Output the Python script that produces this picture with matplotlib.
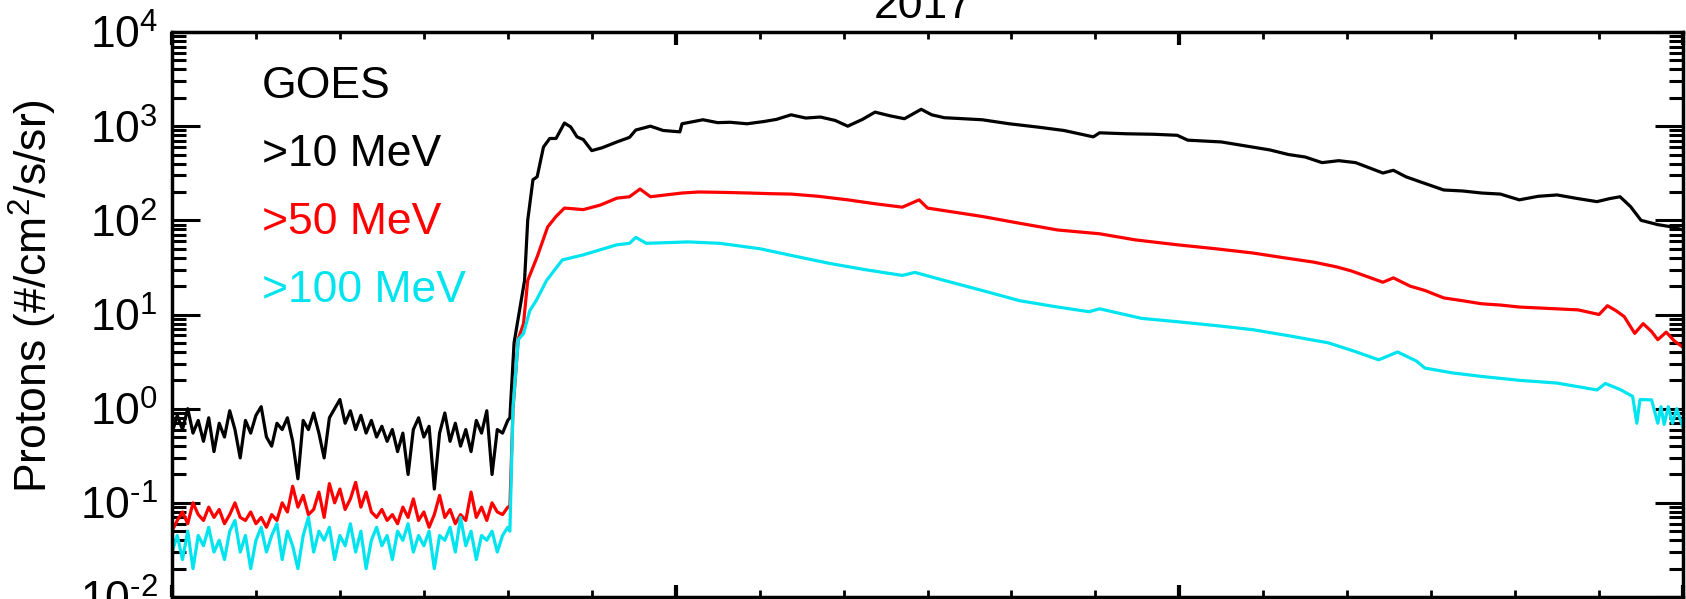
import numpy as np
import matplotlib.pyplot as plt
from matplotlib.ticker import FixedLocator, LogLocator, NullFormatter

plt.rcParams['font.family'] = ['Liberation Sans', 'DejaVu Sans']
plt.rcParams['mathtext.fontset'] = 'custom'
plt.rcParams['mathtext.rm'] = 'Liberation Sans'
plt.rcParams['mathtext.it'] = 'Liberation Sans'

# ---- data (hours since start of plot, #/cm2/s/sr) ----
# quiet-time background, sampled every 15 min over the first 16 h
quiet_p10 = [0.55, 0.85, 0.6, 1.0, 0.55, 0.75, 0.45, 0.8, 0.35, 0.7, 0.5, 0.95, 0.6,
             0.3, 0.75, 0.55, 0.85, 1.05, 0.5, 0.4, 0.7, 0.6, 0.8, 0.45, 0.18, 0.75,
             0.6, 0.9, 0.55, 0.3, 0.8, 1.0, 1.25, 0.7, 0.95, 0.6, 0.85, 0.55, 0.75,
             0.5, 0.65, 0.45, 0.6, 0.35, 0.55, 0.2, 0.6, 0.8, 0.5, 0.65, 0.14, 0.55,
             0.9, 0.45, 0.7, 0.4, 0.6, 0.35, 0.75, 0.55, 0.95, 0.2, 0.6, 0.55, 0.75]
quiet_p50 = [0.05, 0.065, 0.08, 0.06, 0.1, 0.075, 0.065, 0.09, 0.07, 0.085, 0.06, 0.075,
             0.1, 0.07, 0.065, 0.08, 0.06, 0.07, 0.055, 0.075, 0.065, 0.1, 0.08, 0.15,
             0.09, 0.12, 0.075, 0.085, 0.13, 0.07, 0.16, 0.1, 0.14, 0.085, 0.11, 0.165,
             0.09, 0.13, 0.08, 0.07, 0.085, 0.065, 0.075, 0.06, 0.09, 0.07, 0.11, 0.065,
             0.08, 0.055, 0.075, 0.12, 0.07, 0.085, 0.06, 0.075, 0.065, 0.13, 0.07,
             0.09, 0.065, 0.1, 0.08, 0.075, 0.09]
quiet_p100 = [0.03, 0.045, 0.025, 0.05, 0.02, 0.045, 0.035, 0.055, 0.03, 0.04, 0.025,
              0.05, 0.065, 0.03, 0.045, 0.02, 0.04, 0.055, 0.03, 0.045, 0.06, 0.025,
              0.05, 0.035, 0.02, 0.045, 0.07, 0.03, 0.05, 0.04, 0.055, 0.025, 0.045,
              0.035, 0.06, 0.03, 0.05, 0.02, 0.04, 0.055, 0.035, 0.045, 0.025, 0.05,
              0.04, 0.06, 0.03, 0.045, 0.035, 0.05, 0.02, 0.045, 0.04, 0.055, 0.03,
              0.07, 0.035, 0.05, 0.025, 0.045, 0.04, 0.05, 0.03, 0.045, 0.055]

# event part
t_p10 = [16.1, 16.3, 16.8, 16.95, 17.2, 17.4, 17.7, 18.0, 18.3, 18.7, 19.0, 19.3, 19.6,
         20.0, 20.5, 21.2, 21.8, 22.1, 22.8, 23.4, 24.2, 24.3, 25.3, 26.0, 26.6, 27.4,
         28.2, 28.8, 29.5, 30.2, 30.9, 31.6, 32.2, 32.9, 33.5, 34.2, 34.9, 35.7, 36.2,
         36.8, 37.7, 38.6, 39.9, 41.3, 42.5, 43.9, 44.2, 45.5, 46.8, 47.9, 48.4, 50.0,
         51.5, 52.3, 53.2, 54.0, 54.8, 55.6, 56.4, 57.7, 58.2, 58.8, 59.4, 60.6, 61.5,
         62.4, 63.3, 64.2, 65.1, 66.0, 67.0, 67.9, 68.5, 69.0, 69.5, 70.0, 70.8, 71.5,
         72.0]
p10 = [0.8, 5, 23, 100, 270, 290, 600, 740, 740, 1080, 980, 770, 720,
       550, 590, 680, 760, 910, 1000, 900, 870, 1060, 1170, 1090, 1100, 1060,
       1120, 1180, 1320, 1220, 1250, 1150, 1000, 1180, 1410, 1290, 1200, 1510, 1320,
       1230, 1200, 1170, 1060, 975, 900, 770, 850, 830, 820, 800, 710, 680,
       600, 560, 500, 470, 410, 430, 410, 318, 340, 290, 260, 210, 205,
       195, 190, 165, 180, 186, 170, 158, 170, 178, 140, 100, 90, 85,
       79]

t_p50 = [16.1, 16.25, 16.5, 16.75, 16.95, 17.4, 17.9, 18.3, 18.7, 19.6, 20.4, 21.2,
         21.8, 22.3, 22.8, 24.3, 25.1, 26.3, 27.5, 28.5, 29.5, 30.8, 32.2, 33.5, 34.8,
         35.6, 36.0, 37.3, 38.6, 40.4, 42.2, 44.2, 45.9, 47.9, 49.7, 51.5, 53.0, 54.4,
         55.5, 56.2, 57.0, 57.7, 58.2, 59.0, 59.7, 60.6, 61.5, 62.4, 63.3, 64.2, 65.6,
         67.0, 68.0, 68.4, 68.8, 69.2, 69.7, 70.1, 70.5, 70.8, 71.2, 71.6, 72.0]
p50 = [0.09, 1.0, 5.5, 8, 23, 41, 85, 110, 135, 130, 145, 172,
       178, 215, 178, 195, 200, 198, 195, 192, 190, 180, 165, 150, 138,
       165, 135, 122, 110, 93, 79, 72, 62, 55, 50, 45, 40, 36,
       32, 29, 25, 22, 24.5, 20, 18, 15, 14, 13, 12.6, 12, 11.6,
       11.2, 10, 12.4, 11, 9.5, 6.3, 8, 6.6, 5.4, 6.5, 5.2, 4.5]

t_p100 = [16.1, 16.25, 16.5, 16.75, 17.05, 17.35, 17.85, 18.6, 19.6, 21.2, 21.8, 22.1,
          22.6, 24.6, 26.1, 28.0, 29.6, 31.3, 33.0, 34.8, 35.4, 36.8, 38.6, 40.4, 42.0,
          43.7, 44.2, 46.2, 48.1, 49.8, 51.5, 53.3, 55.1, 56.3, 57.5, 58.4, 59.3, 59.7,
          61.0, 62.4, 64.2, 66.0, 67.9, 68.3, 69.0, 69.6, 69.8, 69.95, 70.5, 70.8,
          70.95, 71.1, 71.3, 71.5, 71.7, 72.0]
p100 = [0.05, 1.05, 5.4, 6.3, 11, 14, 23, 38, 43, 55, 57, 66,
        57, 59, 57, 50, 42, 35, 30, 26, 28, 23, 18, 14, 12.2,
        10.7, 11.5, 9.1, 8.3, 7.6, 6.9, 5.9, 5.0, 4.1, 3.3, 4.0, 3.2, 2.7,
        2.4, 2.2, 2.0, 1.87, 1.58, 1.85, 1.6, 1.35, 0.7, 1.25, 1.24, 0.7,
        1.05, 0.68, 1.05, 0.7, 1.0, 0.63]

labels = ['GOES', '>10 MeV', '>50 MeV', '>100 MeV']
colors = ['black', 'black', '#ff0000', '#00e4f0']

# ---- plot ----
W, H = 1686, 599
fig = plt.figure(figsize=(W / 100, H / 100), dpi=100)
ax = fig.add_axes([172 / W, 1 - 597 / H, (1683 - 172) / W, (597 - 32) / H])

for quiet, t_ev, v_ev, c in [(quiet_p10, t_p10, p10, colors[1]),
                             (quiet_p50, t_p50, p50, colors[2]),
                             (quiet_p100, t_p100, p100, colors[3])]:
    t_q = np.linspace(0, 16, len(quiet))
    ax.plot(np.concatenate([t_q, t_ev]), np.concatenate([quiet, v_ev]),
            color=c, lw=2.3)

ax.set_yscale('log')
ax.set_ylim(1e-2, 1e4)
ax.set_xlim(0, 72)
ax.xaxis.set_major_locator(FixedLocator([0, 24, 48, 72]))
ax.xaxis.set_minor_locator(FixedLocator(np.arange(0, 73, 4)))
ax.yaxis.set_minor_locator(LogLocator(base=10, subs=np.arange(2, 10), numticks=10))
ax.yaxis.set_minor_formatter(NullFormatter())
ax.set_yticks([1e-2, 1e-1, 1e0, 1e1, 1e2, 1e3, 1e4])
# IDL-style labels with a short hyphen for the negative exponents
ax.set_yticklabels([r'$\mathregular{10^{%s}}$' % str(e).replace('-', '\u2010')
                    for e in range(-2, 5)])

ax.tick_params(axis='y', which='major', direction='in', length=20, width=2.2,
               left=True, right=True, labelsize=32, pad=10)
ax.tick_params(axis='y', which='minor', direction='in', length=10, width=2.2,
               left=True, right=True)
ax.tick_params(axis='x', which='major', direction='in', length=9, width=3,
               top=True, bottom=True, labelbottom=False)
ax.tick_params(axis='x', which='minor', direction='in', length=5, width=2,
               top=True, bottom=True)
for sp in ax.spines.values():
    sp.set_linewidth(2.5)

# legend-like labels
for i, (lab, c) in enumerate(zip(labels, colors)):
    fig.text(262 / W, 1 - (86 + 68 * i) / H, lab, color=c,
             fontsize=32, ha='left', va='center')

fig.text(33 / W, 1 - 296 / H, 'Protons (#/cm$^2$/s/sr)', rotation=90,
         fontsize=32, ha='center', va='center')
fig.text(923 / W, 1 - 18 / H, '2017', fontsize=32, ha='center', va='baseline')

fig.savefig('out.png', dpi=100)
